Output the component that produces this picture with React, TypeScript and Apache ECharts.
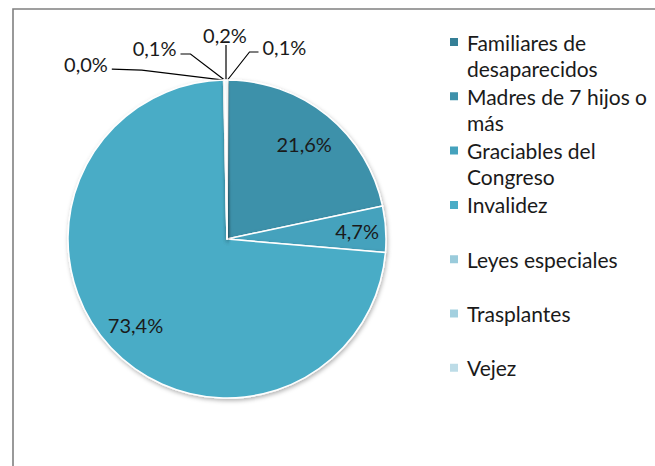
import React, { useEffect, useRef } from 'react';
import * as echarts from 'echarts';

// ---- data ----
const categories = [
  'Familiares de desaparecidos',
  'Madres de 7 hijos o más',
  'Graciables del Congreso',
  'Invalidez',
  'Leyes especiales',
  'Trasplantes',
  'Vejez',
];
const legendLines = [
  ['Familiares de', 'desaparecidos'],
  ['Madres de 7 hijos o', 'más'],
  ['Graciables del', 'Congreso'],
  ['Invalidez'],
  ['Leyes especiales'],
  ['Trasplantes'],
  ['Vejez'],
];
const shares = [0.1, 21.6, 4.7, 73.4, 0.04, 0.1, 0.2];

// ---- styles ----
const colors = ['#357f96', '#3e91aa', '#45a2bd', '#4aacc6', '#9acbdb', '#a3d0df', '#bddce7'];
const FONT = 'Lato';
const TEXT = '#1a1a1a';
const CX = 227;
const CY = 239;
const R = 159;
// inside label radial stretch (relative to default mid-radius placement)
const insideStretch: Record<number, number> = { 1: 1.48, 2: 1.58, 3: 1.52 };
// callout offsets relative to the slice edge point: [bend, end], label, align
const callouts: Record<number, { pts: number[][]; lab: number[]; align: string }> = {
  0: { pts: [[22, -28], [31, -28]], lab: [35, -33], align: 'left' },
  4: { pts: [[-82, -10], [-112, -11]], lab: [-116, -16], align: 'right' },
  5: { pts: [[-34, -26], [-44, -26]], lab: [-48, -32], align: 'right' },
  6: { pts: [[0, -18], [0, -35]], lab: [-1, -45], align: 'center' },
};

function fmt(v: number) {
  return v.toFixed(1).replace('.', ',') + '%';
}

export default function App() {
  const ref = useRef<HTMLDivElement>(null);
  useEffect(() => {
    if (!ref.current) return;
    const chart = echarts.init(ref.current, undefined, { renderer: 'svg' });
    const data = categories.map((name, i) => {
      const outside = callouts[i] != null;
      return {
        name,
        value: shares[i],
        itemStyle: { color: colors[i] },
        label: { position: outside ? 'outside' : 'inside' },
        labelLine: { show: outside },
      };
    });
    const LH = 26;
    const legends = categories.map((name, i) => {
      const two = legendLines[i].length > 1;
      const iconCenter = 42 + i * 54.3;
      return {
        data: [name],
        orient: 'vertical',
        left: 448,
        top: iconCenter - (two ? LH * 1.5 : LH / 2),
        padding: 0,
        icon: 'rect',
        itemWidth: 10,
        itemHeight: 10,
        itemGap: 0,
        selectedMode: false,
        formatter: () => (two ? '\n' : '') + legendLines[i].join('\n'),
        textStyle: {
          fontFamily: FONT,
          fontSize: 21,
          lineHeight: LH,
          color: TEXT,
          padding: [0, 0, 0, 3],
        },
      };
    });
    chart.setOption({
      animation: false,
      backgroundColor: '#ffffff',
      graphic: [
        {
          type: 'rect',
          shape: { x: 13, y: 9, width: 900, height: 700 },
          style: { fill: 'none', stroke: '#808080', lineWidth: 1.6 },
          z: 0,
        },
      ],
      legend: legends,
      series: [
        {
          type: 'pie',
          center: [CX, CY],
          radius: R,
          startAngle: 90,
          clockwise: true,
          avoidLabelOverlap: false,
          itemStyle: {
            borderColor: '#ffffff',
            borderWidth: 1.5,
            shadowBlur: 4,
            shadowOffsetY: 2,
            shadowOffsetX: 1,
            shadowColor: 'rgba(0,0,0,0.3)',
          },
          label: {
            show: true,
            formatter: (p: any) => fmt(p.value),
            fontFamily: FONT,
            fontSize: 20,
            color: TEXT,
          },
          labelLine: {
            show: true,
            lineStyle: { color: '#000000', width: 1.2 },
          },
          labelLayout: (params: any) => {
            const i = params.dataIndex;
            const c = callouts[i];
            if (c && params.labelLinePoints) {
              const s = params.labelLinePoints[0];
              return {
                x: s[0] + c.lab[0],
                y: s[1] + c.lab[1],
                align: c.align,
                verticalAlign: 'middle',
                labelLinePoints: [
                  s,
                  [s[0] + c.pts[0][0], s[1] + c.pts[0][1]],
                  [s[0] + c.pts[1][0], s[1] + c.pts[1][1]],
                ],
              };
            }
            const k = insideStretch[i];
            if (k) {
              const r = params.labelRect;
              const mx = r.x + r.width / 2;
              const my = r.y + r.height / 2;
              return {
                x: CX + (mx - CX) * k,
                y: CY + (my - CY) * k,
                align: 'center',
                verticalAlign: 'middle',
              };
            }
            return {};
          },
          data,
        },
      ],
    });
    return () => chart.dispose();
  }, []);
  return (
    <div
      ref={ref}
      style={{ position: 'fixed', left: 0, top: 0, width: 655, height: 466, background: '#fff' }}
    />
  );
}
